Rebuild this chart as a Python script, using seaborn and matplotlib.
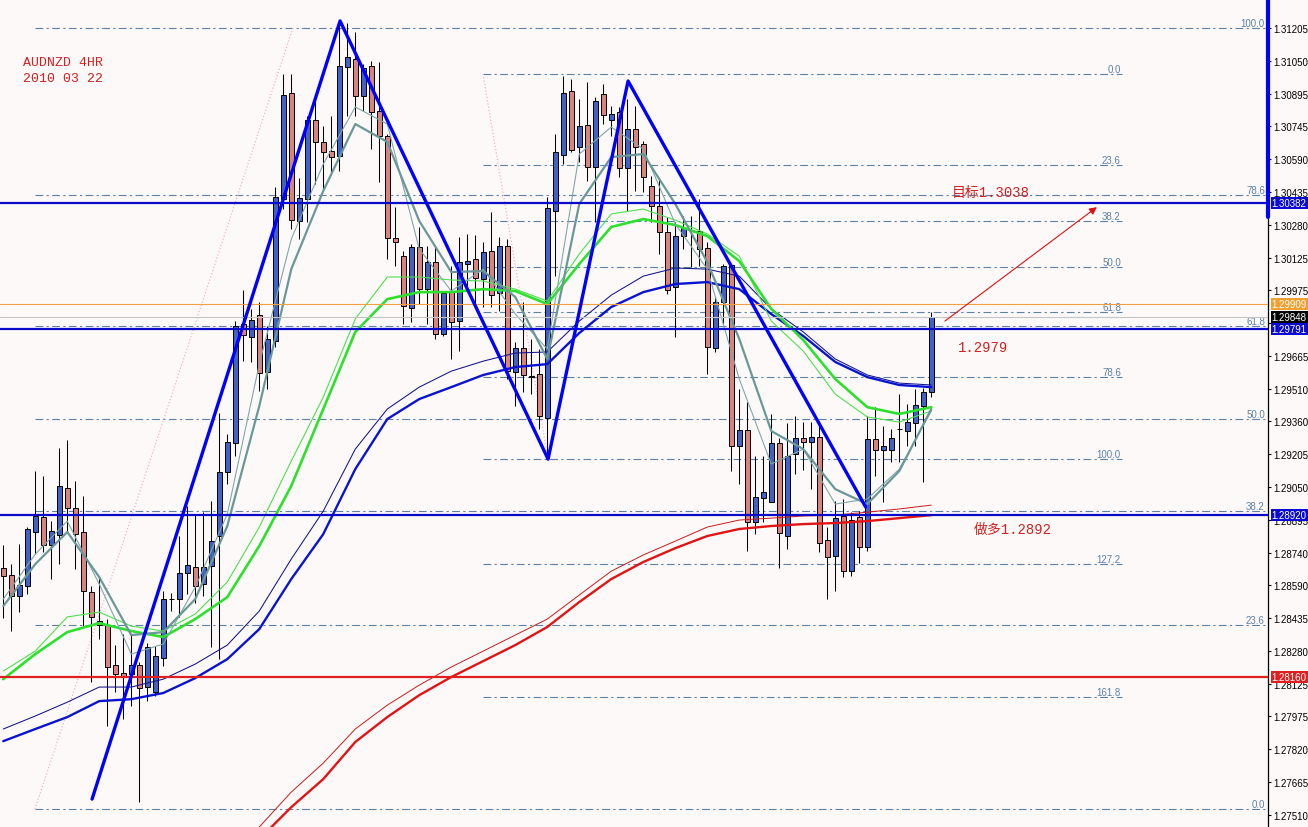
import numpy as np
import pandas as pd
import seaborn as sns
import matplotlib
matplotlib.use("Agg")
from matplotlib import pyplot as plt
from matplotlib import transforms

# velas AUDNZD 4H, precios (open, high, low, close)
opens = [1.28670, 1.28637, 1.28538, 1.28585, 1.28839, 1.28909, 1.28778, 1.28825, 1.29045, 1.28951,
         1.28839, 1.28557, 1.28421, 1.28402, 1.28214, 1.28177, 1.28172, 1.28214, 1.28111, 1.28087,
         1.28247, 1.28524, 1.28524, 1.28646, 1.28674, 1.28594, 1.28679, 1.28820, 1.29120, 1.29256,
         1.29815, 1.29754, 1.29857, 1.29590, 1.29735, 1.30402, 1.30900, 1.30299, 1.30402, 1.30773,
         1.30670, 1.30627, 1.30604, 1.31022, 1.31059, 1.30886, 1.31026, 1.30815, 1.30698, 1.30219,
         1.30134, 1.29890, 1.30177, 1.29979, 1.30106, 1.29768, 1.29965, 1.29829, 1.30097, 1.30120,
         1.30026, 1.30158, 1.29961, 1.30181, 1.29590, 1.29702, 1.29571, 1.29580, 1.29374, 1.30346,
         1.30609, 1.30909, 1.30646, 1.30749, 1.30552, 1.30895, 1.30773, 1.30810, 1.30548, 1.30731,
         1.30660, 1.30463, 1.30369, 1.30247, 1.29989, 1.30228, 1.30256, 1.30252, 1.30172, 1.29702,
         1.29918, 1.30092, 1.29242, 1.29317, 1.28886, 1.28998, 1.28979, 1.29256, 1.28820, 1.29205,
         1.29280, 1.29261, 1.29285, 1.28801, 1.28726, 1.28914, 1.28655, 1.28909, 1.28768, 1.29275,
         1.29224, 1.29224, 1.29322, 1.29313, 1.29350, 1.29430, 1.29496]
highs = [1.28778, 1.28688, 1.28782, 1.28862, 1.29125, 1.29102, 1.28890, 1.29233, 1.29271, 1.29078,
         1.29008, 1.28585, 1.28632, 1.28430, 1.28308, 1.28360, 1.28355, 1.28228, 1.28317, 1.28303,
         1.28562, 1.28552, 1.28820, 1.28961, 1.28923, 1.28932, 1.28984, 1.29397, 1.29299, 1.29829,
         1.29975, 1.29886, 1.29918, 1.29806, 1.30458, 1.30989, 1.30989, 1.30501, 1.30792, 1.30862,
         1.30745, 1.30792, 1.31238, 1.31228, 1.31186, 1.31036, 1.31050, 1.31045, 1.30707, 1.30364,
         1.30158, 1.30191, 1.30271, 1.30181, 1.30181, 1.29965, 1.30087, 1.30223, 1.30238, 1.30233,
         1.30200, 1.30341, 1.30223, 1.30214, 1.29731, 1.29918, 1.29745, 1.29698, 1.30411, 1.30707,
         1.30979, 1.30965, 1.30872, 1.30951, 1.30881, 1.30942, 1.30839, 1.30834, 1.30872, 1.30839,
         1.30674, 1.30510, 1.30496, 1.30318, 1.30294, 1.30322, 1.30322, 1.30402, 1.30200, 1.29942,
         1.30097, 1.30097, 1.29510, 1.29449, 1.29195, 1.29195, 1.29393, 1.29280, 1.29350, 1.29383,
         1.29355, 1.29355, 1.29360, 1.28862, 1.28984, 1.28994, 1.28932, 1.28937, 1.29383, 1.29425,
         1.29336, 1.29322, 1.29486, 1.29440, 1.29510, 1.29515, 1.29872]
lows = [1.28435, 1.28374, 1.28463, 1.28548, 1.28735, 1.28745, 1.28618, 1.28688, 1.28839, 1.28665,
        1.28397, 1.28134, 1.28336, 1.27928, 1.28087, 1.27961, 1.28022, 1.27571, 1.28045, 1.28069,
        1.28209, 1.28468, 1.28440, 1.28548, 1.28505, 1.28538, 1.28299, 1.28242, 1.29064, 1.29195,
        1.29641, 1.29637, 1.29501, 1.29510, 1.29707, 1.30355, 1.30261, 1.30214, 1.30294, 1.30472,
        1.30449, 1.30529, 1.30533, 1.30792, 1.30792, 1.30815, 1.30637, 1.30482, 1.30120, 1.30087,
        1.29815, 1.29825, 1.29909, 1.29815, 1.29745, 1.29759, 1.29651, 1.29688, 1.29994, 1.29900,
        1.29895, 1.29895, 1.29876, 1.29557, 1.29430, 1.29496, 1.29486, 1.29322, 1.29181, 1.30040,
        1.30566, 1.30623, 1.30576, 1.30487, 1.30294, 1.30754, 1.30698, 1.30505, 1.30346, 1.30440,
        1.30435, 1.30294, 1.30144, 1.29956, 1.29754, 1.30167, 1.30083, 1.30087, 1.29580, 1.29684,
        1.29815, 1.29125, 1.29064, 1.28749, 1.28829, 1.28886, 1.28979, 1.28670, 1.28759, 1.29111,
        1.29130, 1.29040, 1.28745, 1.28524, 1.28562, 1.28627, 1.28632, 1.28693, 1.28749, 1.29102,
        1.28979, 1.29167, 1.29167, 1.29242, 1.29242, 1.29073, 1.29472]
closes = [1.28632, 1.28538, 1.28590, 1.28853, 1.28914, 1.28778, 1.28843, 1.29055, 1.28951, 1.28829,
          1.28562, 1.28440, 1.28402, 1.28205, 1.28172, 1.28162, 1.28214, 1.28106, 1.28299, 1.28256,
          1.28524, 1.28524, 1.28646, 1.28684, 1.28585, 1.28674, 1.28796, 1.29120, 1.29261, 1.29806,
          1.29763, 1.29834, 1.29585, 1.29745, 1.30411, 1.30890, 1.30303, 1.30407, 1.30773, 1.30670,
          1.30623, 1.30599, 1.31026, 1.31069, 1.30886, 1.31017, 1.30810, 1.30698, 1.30219, 1.30200,
          1.29900, 1.30177, 1.29979, 1.30106, 1.29768, 1.29961, 1.29825, 1.30106, 1.30111, 1.30031,
          1.30153, 1.29951, 1.30181, 1.29594, 1.29702, 1.29576, 1.29566, 1.29383, 1.30360, 1.30623,
          1.30900, 1.30632, 1.30745, 1.30552, 1.30862, 1.30796, 1.30801, 1.30548, 1.30731, 1.30646,
          1.30505, 1.30369, 1.30247, 1.29975, 1.30228, 1.30266, 1.30256, 1.30167, 1.29707, 1.29918,
          1.30087, 1.29242, 1.29317, 1.28886, 1.29003, 1.29026, 1.29256, 1.28834, 1.29195, 1.29280,
          1.29261, 1.29285, 1.28787, 1.28721, 1.28904, 1.28655, 1.28895, 1.28768, 1.29275, 1.29224,
          1.29242, 1.29280, 1.29322, 1.29355, 1.29435, 1.29496, 1.29848]

# medias moviles leidas cada 4 velas
ma_idx = [0, 4, 8, 12, 16, 20, 24, 28, 32, 36, 40, 44, 48, 52, 56,
          60, 64, 68, 72, 76, 80, 84, 88, 92, 96, 100, 104, 108, 112, 116]
teal_fast = [1.28524, 1.28735, 1.28890, 1.28594, 1.28266, 1.28313, 1.28580, 1.28923, 1.29627, 1.30214,
             1.30566, 1.30834, 1.30754, 1.30167, 1.29970, 1.30073, 1.29862, 1.29698, 1.30613, 1.30740,
             1.30637, 1.30285, 1.30073, 1.29557, 1.29158, 1.29228, 1.28970, 1.28994, 1.29134, 1.29407]
teal_slow = [1.28491, 1.28688, 1.28839, 1.28627, 1.28355, 1.28369, 1.28524, 1.28867, 1.29430, 1.30073,
             1.30440, 1.30754, 1.30670, 1.30299, 1.30059, 1.30064, 1.29942, 1.29651, 1.30379, 1.30599,
             1.30613, 1.30379, 1.30106, 1.29745, 1.29313, 1.29228, 1.29040, 1.28970, 1.29125, 1.29416]
green_fast = [1.28186, 1.28280, 1.28440, 1.28463, 1.28397, 1.28374, 1.28454, 1.28604, 1.28862, 1.29172,
              1.29472, 1.29839, 1.30036, 1.30036, 1.30022, 1.30017, 1.29979, 1.29923, 1.30144, 1.30332,
              1.30355, 1.30303, 1.30238, 1.30134, 1.29829, 1.29688, 1.29486, 1.29379, 1.29355, 1.29407]
green_slow = [1.28148, 1.28266, 1.28369, 1.28411, 1.28374, 1.28346, 1.28430, 1.28533, 1.28773, 1.29055,
              1.29416, 1.29778, 1.29932, 1.29965, 1.29965, 1.29979, 1.29970, 1.29909, 1.30097, 1.30271,
              1.30308, 1.30280, 1.30228, 1.30111, 1.29886, 1.29740, 1.29557, 1.29425, 1.29393, 1.29425]
blue_fast = [1.27914, 1.27975, 1.28040, 1.28111, 1.28111, 1.28148, 1.28219, 1.28308, 1.28468, 1.28712,
             1.28937, 1.29228, 1.29416, 1.29519, 1.29594, 1.29641, 1.29679, 1.29684, 1.29829, 1.29951,
             1.30040, 1.30078, 1.30073, 1.30040, 1.29886, 1.29778, 1.29651, 1.29576, 1.29538, 1.29529]
blue_slow = [1.27857, 1.27914, 1.27970, 1.28045, 1.28054, 1.28083, 1.28153, 1.28242, 1.28383, 1.28618,
             1.28829, 1.29134, 1.29369, 1.29463, 1.29519, 1.29576, 1.29613, 1.29627, 1.29773, 1.29895,
             1.29965, 1.30003, 1.30012, 1.29979, 1.29862, 1.29759, 1.29637, 1.29566, 1.29529, 1.29519]
red_idx = [32, 36, 40, 44, 48, 52, 56, 60, 64, 68, 72, 76, 80, 84, 88, 92, 96, 100, 104, 108, 112, 116]
red_fast = [1.27454, 1.27618, 1.27754, 1.27914, 1.28026, 1.28120, 1.28205, 1.28280, 1.28355, 1.28430, 1.28543,
            1.28655, 1.28731, 1.28796, 1.28862, 1.28895, 1.28904, 1.28914, 1.28918, 1.28932, 1.28947, 1.28965]
red_slow = [1.27397, 1.27547, 1.27679, 1.27853, 1.27970, 1.28073, 1.28158, 1.28233, 1.28308, 1.28393, 1.28510,
            1.28618, 1.28698, 1.28763, 1.28820, 1.28853, 1.28867, 1.28876, 1.28881, 1.28890, 1.28904, 1.28918]

# zigzag dibujado a mano
zz_idx = [11.1, 42.1, 68.1, 78.1, 107.8]
zz_price = [1.27585, 1.31238, 1.29181, 1.30956, 1.28956]

# fibonacci
fib1_levels = [0.0, 23.6, 38.2, 50.0, 61.8, 78.6, 100.0]
fib1_low, fib1_high = 1.27538, 1.31205
fib2_levels = [0.0, 23.6, 38.2, 50.0, 61.8, 78.6, 100.0, 127.2, 161.8]
fib2_top, fib2_bottom = 1.30989, 1.29181

# lineas horizontales
blue_levels = [1.30382, 1.29791, 1.28920]
red_level = 1.28160
orange_level = 1.29909
bid_price = 1.29848

axis_prices = [1.31205, 1.31050, 1.30895, 1.30745, 1.30590, 1.30435, 1.30280, 1.30125, 1.29975,
               1.29820, 1.29665, 1.29510, 1.29360, 1.29205, 1.29050, 1.28895, 1.28740, 1.28590,
               1.28435, 1.28280, 1.28125, 1.27975, 1.27820, 1.27665, 1.27510]
# esta queda tapada por la etiqueta del bid
hidden_labels = [1.29820]

bg = '#fdf9f9'
fib_col = '#5a82a8'
txt_red = '#d42020'

sns.set_style("white")
plt.rcParams['font.family'] = ['Liberation Sans', 'DejaVu Sans']

fig = plt.figure(figsize=(13.08, 8.28), dpi=100, facecolor=bg)
ax = fig.add_axes([0, 0, 1268 / 1308, 1])
ax.set_facecolor(bg)
xmax = 158.09

# fibo 1 (subida grande)
dash = (0, (7, 3, 2, 3))
for lv in fib1_levels:
    p = fib1_low + (fib1_high - fib1_low) * lv / 100
    ax.plot([3.96, xmax], [p, p], color=fib_col, lw=0.8, ls=dash, zorder=1)
    ax.text(157.7, p, f"{lv:.1f}", color=fib_col, fontsize=7, ha='right', va='bottom', zorder=1)
ax.plot([3.96, 36.2], [fib1_low, fib1_high], color='#f2b4c4', lw=0.9, ls=':', zorder=1)

# fibo 2
for lv in fib2_levels:
    p = fib2_top - (fib2_top - fib2_bottom) * lv / 100
    ax.plot([59.96, 139.84], [p, p], color=fib_col, lw=0.8, ls=dash, zorder=1)
    ax.text(139.7, p, f"{lv:.1f}", color=fib_col, fontsize=7, ha='right', va='bottom', zorder=1)
ax.plot([59.96, 68.09], [fib2_top, fib2_bottom], color='#f2b4c4', lw=0.9, ls=':', zorder=1)

# velas
df = pd.DataFrame({'o': opens, 'h': highs, 'l': lows, 'c': closes})
df['i'] = np.arange(len(df))
up = df[df.c >= df.o]
dn = df[df.c < df.o]
ax.vlines(df.i, df.l, df.h, color='black', lw=0.75, zorder=3)
ax.bar(up.i, up.c - up.o, bottom=up.o, width=0.66, color='#4162c4', edgecolor='black', lw=0.7, zorder=3.2)
ax.bar(dn.i, dn.o - dn.c, bottom=dn.c, width=0.66, color='#d98282', edgecolor='black', lw=0.7, zorder=3.2)

# medias
sns.lineplot(x=red_idx, y=red_fast, ax=ax, color='#cc1a1a', lw=0.7, zorder=4)
sns.lineplot(x=red_idx, y=red_slow, ax=ax, color='#e01414', lw=1.7, zorder=4)
sns.lineplot(x=ma_idx, y=blue_fast, ax=ax, color='#12128c', lw=0.75, zorder=4)
sns.lineplot(x=ma_idx, y=blue_slow, ax=ax, color='#0a14d0', lw=1.7, zorder=4)
sns.lineplot(x=ma_idx, y=green_fast, ax=ax, color='#4ee04e', lw=0.8, zorder=4)
sns.lineplot(x=ma_idx, y=green_slow, ax=ax, color='#2ee02e', lw=1.9, zorder=4)
sns.lineplot(x=ma_idx, y=teal_fast, ax=ax, color='#7fa8a8', lw=0.8, zorder=4)
sns.lineplot(x=ma_idx, y=teal_slow, ax=ax, color='#6a9898', lw=1.6, zorder=4)

# lineas horizontales
for p in blue_levels:
    ax.axhline(p, color='#0a0ac8', lw=1.6, zorder=5)
ax.axhline(red_level, color='#e02020', lw=1.6, zorder=5)
ax.axhline(orange_level, color='#f0a040', lw=0.8, zorder=5)
ax.axhline(bid_price, color='#c4c4c4', lw=0.8, zorder=5)

# zigzag
sns.lineplot(x=zz_idx, y=zz_price, ax=ax, sort=False, estimator=None, color='#0000ff', lw=2.4, zorder=6)

# textos
mono = ['Liberation Mono', 'Noto Sans CJK SC']
ax.text(2.46, 1.31045, "AUDNZD 4HR", color=txt_red, fontsize=9.5, family=mono, va='center')
ax.text(2.46, 1.30970, "2010 03 22", color=txt_red, fontsize=9.5, family=mono, va='center')
ax.text(118.6, 1.30435, "目标1.3038", color=txt_red, fontsize=10, family=mono, va='center', zorder=7)
ax.text(119.3, 1.29707, "1.2979", color=txt_red, fontsize=10, family=mono, va='center', zorder=7)
ax.text(121.3, 1.28853, "做多1.2892", color=txt_red, fontsize=10, family=mono, va='center', zorder=7)
ax.annotate("", xy=(136.7, 1.30364), xytext=(117.7, 1.29829),
            arrowprops=dict(arrowstyle='-|>', color='#e01010', lw=0.8, mutation_scale=11,
                            shrinkA=0, shrinkB=0), zorder=7)

ax.set_xlim(-0.41, xmax)
ax.set_ylim(1.27454, 1.31341)
ax.set_xticks([])
ax.yaxis.tick_right()
ax.set_yticks(axis_prices)
ax.set_yticklabels(["" if p in hidden_labels else f"{p:.5f}" for p in axis_prices])
ax.tick_params(axis='y', direction='out', length=2.2, width=0.8, pad=1.5, labelsize=7, colors='black')
for s in ['top', 'left', 'bottom']:
    ax.spines[s].set_visible(False)
ax.spines['right'].set_color('black')
ax.spines['right'].set_linewidth(0.9)
ax.plot([1, 1], [1 - 218 / 828, 1], transform=ax.transAxes, color='#0000ff', lw=3, clip_on=False, zorder=8)

# etiquetas de precio en el eje
trans = transforms.blended_transform_factory(ax.transAxes, ax.transData)
tags = [(blue_levels[0], '#0a0ad2'), (orange_level, '#f0a030'), (bid_price, '#000000'),
        (blue_levels[1], '#0a0ad2'), (blue_levels[2], '#0a0ad2'), (red_level, '#e02020')]
for p, fc in tags:
    ax.text(1.003, p, f"{p:.5f}", transform=trans, color='white', fontsize=7, ha='left', va='center',
            bbox=dict(boxstyle='square,pad=0.1', fc=fc, ec='none'), clip_on=False, zorder=10)

fig.savefig('out.png', dpi=100, facecolor=bg)
